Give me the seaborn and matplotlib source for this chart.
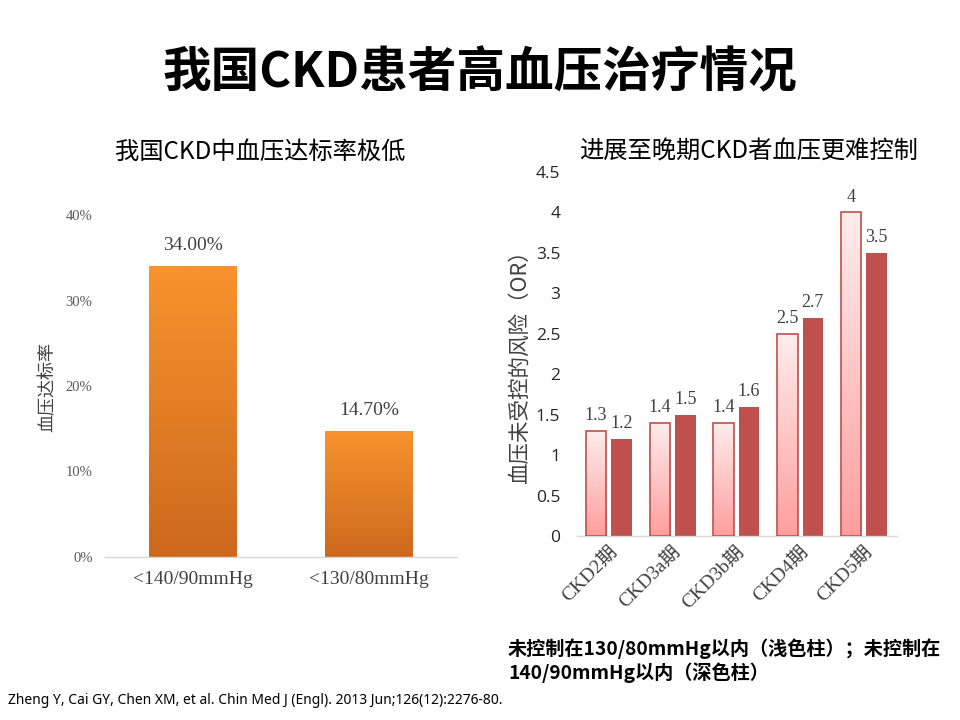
import numpy as np
import pandas as pd
import matplotlib
matplotlib.use('Agg')
import matplotlib.pyplot as plt
import seaborn as sns
from matplotlib.colors import LinearSegmentedColormap

sns.set_theme(style='white')
plt.rcParams['font.family'] = ['Noto Sans CJK SC', 'DejaVu Sans']

# data
left_cats = ['<140/90mmHg', '<130/80mmHg']
left_vals = [0.34, 0.147]
left_labels = ['34.00%', '14.70%']

stages = ['CKD2期', 'CKD3a期', 'CKD3b期', 'CKD4期', 'CKD5期']
or_130 = [1.3, 1.4, 1.4, 2.5, 4.0]
or_140 = [1.2, 1.5, 1.6, 2.7, 3.5]

serif = ['Liberation Serif', 'Noto Sans CJK SC']
grid_c = '#D9D9D9'


def gradient_fill(ax, patch, top, bottom, z=2):
    x0, y0 = patch.get_x(), patch.get_y()
    w, h = patch.get_width(), patch.get_height()
    cmap = LinearSegmentedColormap.from_list('g', [bottom, top])
    grad = np.linspace(0, 1, 256).reshape(-1, 1)
    im = ax.imshow(grad, extent=[x0, x0 + w, y0, y0 + h], origin='lower',
                   cmap=cmap, aspect='auto', zorder=z, interpolation='bilinear')
    im.set_clip_path(patch)
    patch.set_facecolor('none')
    patch.set_zorder(z + 1)


fig = plt.figure(figsize=(9.6, 7.2), dpi=100)

# ---------------- left chart ----------------
ax1 = fig.add_axes([105 / 960, 1 - 557 / 720, 352 / 960, 342 / 720])
df1 = pd.DataFrame({'cat': left_cats, 'val': left_vals})
sns.barplot(data=df1, x='cat', y='val', color='#F7922E', width=0.5,
            saturation=1, ax=ax1)
for p in ax1.patches:
    p.set_linewidth(0)
    gradient_fill(ax1, p, '#F8932E', '#CD681E')
ax1.bar_label(ax1.containers[0], labels=left_labels, padding=9,
              fontsize=14, family=serif, color='#404040')
ax1.set_xlim(-0.5, 1.5)
ax1.set_ylim(0, 0.4)
ax1.set_yticks([0, 0.1, 0.2, 0.3, 0.4])
ax1.set_yticklabels(['0%', '10%', '20%', '30%', '40%'])
ax1.tick_params(axis='y', length=0, pad=9, labelsize=10.5, labelcolor='#595959')
ax1.tick_params(axis='x', length=0, pad=10, labelsize=14, labelcolor='#404040')
for t in ax1.get_yticklabels() + ax1.get_xticklabels():
    t.set_family(serif)
ax1.set_xlabel('')
ax1.set_ylabel('')
for s in ['top', 'right', 'left']:
    ax1.spines[s].set_visible(False)
ax1.spines['bottom'].set_color(grid_c)
ax1.spines['bottom'].set_linewidth(1)
ax1.set_facecolor('none')

# ---------------- right chart ----------------
ax2 = fig.add_axes([577 / 960, 1 - 536 / 720, 320 / 960, 364 / 720])
df2 = pd.DataFrame({
    'stage': stages * 2,
    'OR': or_130 + or_140,
    'grp': ['130/80'] * len(stages) + ['140/90'] * len(stages),
})
sns.barplot(data=df2, x='stage', y='OR', hue='grp',
            palette={'130/80': '#FFD6D6', '140/90': '#C0504D'},
            width=0.8, gap=0.2, saturation=1, legend=False, ax=ax2)
light, dark = ax2.containers[0], ax2.containers[1]
for p in light:
    p.set_edgecolor('#C0504D')
    p.set_linewidth(1.2)
    gradient_fill(ax2, p, '#FFEDED', '#FF9E9E')
for p in dark:
    p.set_linewidth(0)
ax2.bar_label(light, labels=[f'{v:g}' for v in or_130], padding=5,
              fontsize=13, family=serif, color='#404040')
ax2.bar_label(dark, labels=[f'{v:g}' for v in or_140], padding=5,
              fontsize=13, family=serif, color='#404040')
ax2.set_xlim(-0.5, 4.52)
ax2.set_ylim(0, 4.5)
yt = np.arange(0, 4.51, 0.5)
ax2.set_yticks(yt)
ax2.set_yticklabels([f'{v:g}' for v in yt])
ax2.tick_params(axis='y', length=0, pad=12, labelsize=12.5, labelcolor='#262626')
for t in ax2.get_yticklabels():
    t.set_family(['Open Sans', 'DejaVu Sans'])
ax2.tick_params(axis='x', length=0, pad=5, labelsize=14, labelcolor='#404040')
for t in ax2.get_xticklabels():
    t.set_family(serif)
    t.set_rotation(45)
    t.set_ha('right')
    t.set_rotation_mode('anchor')
ax2.set_xlabel('')
ax2.set_ylabel('')
for s in ['top', 'right', 'left']:
    ax2.spines[s].set_visible(False)
ax2.spines['bottom'].set_color(grid_c)
ax2.spines['bottom'].set_linewidth(1)
ax2.set_facecolor('none')

# ---------------- texts ----------------
fig.text(0.5, 1 - 73 / 720, '我国CKD患者高血压治疗情况', ha='center', va='center',
         fontsize=35, fontweight='heavy', color='black')
fig.text(260 / 960, 1 - 152 / 720, '我国CKD中血压达标率极低', ha='center', va='center',
         fontsize=17.5, color='black')
fig.text(748 / 960, 1 - 152 / 720, '进展至晚期CKD者血压更难控制', ha='center', va='center',
         fontsize=17.5, color='black')
fig.text(47 / 960, 1 - 387 / 720, '血压达标率', rotation=90, ha='center', va='center',
         fontsize=13, color='#404040')
fig.text(520 / 960, 1 - 362 / 720, '血压未受控的风险（OR）', rotation=90, ha='center',
         va='center', fontsize=15.5, color='#404040')
fig.text(508 / 960, 1 - 661 / 720,
         '未控制在130/80mmHg以内（浅色柱）；未控制在\n140/90mmHg以内（深色柱）',
         ha='left', va='center', fontsize=13.8, fontweight='bold', color='black',
         linespacing=1.2)
fig.text(8 / 960, 1 - 700 / 720,
         'Zheng Y, Cai GY, Chen XM, et al. Chin Med J (Engl). 2013 Jun;126(12):2276-80.',
         ha='left', va='center', fontsize=10, color='black',
         family=['Noto Sans', 'DejaVu Sans'])

fig.savefig('out.png', dpi=100)
